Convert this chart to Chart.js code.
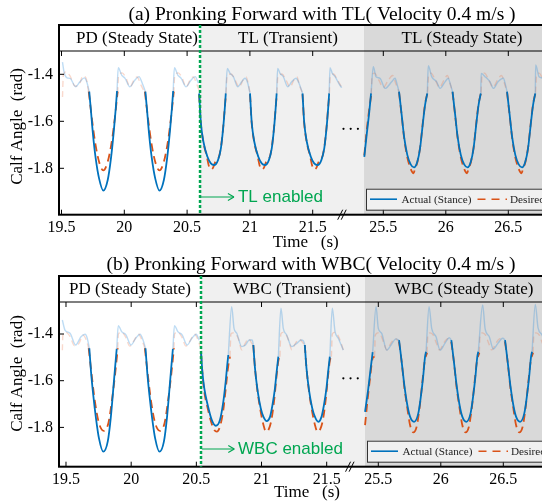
<!DOCTYPE html>
<html>
<head>
<meta charset="utf-8">
<script src="https://cdn.jsdelivr.net/npm/chart.js@4.4.0/dist/chart.umd.min.js"></script>
<style>
  html, body { margin: 0; padding: 0; background: #fff; overflow: hidden; width: 542px; height: 503px; }
  #wrap { position: relative; width: 542px; height: 503px; overflow: hidden; }
  canvas { position: absolute; left: 0; }
  #ca { top: 0; }
  #cb { top: 250px; }
</style>
</head>
<body>
<div id="wrap">
  <canvas id="ca" width="590" height="250"></canvas>
  <canvas id="cb" width="590" height="253"></canvas>
</div>
<script>
// ---- axis ticks / labels ----
const xTickTimes = [19.5, 20, 20.5, 21, 21.5, 25.5, 26, 26.5];
const xTickLabels = ['19.5', '20', '20.5', '21', '21.5', '25.5', '26', '26.5'];
const yTickValues = [-1.4, -1.6, -1.8];
const sectionLabelsA = ['PD (Steady State)', 'TL (Transient)', 'TL (Steady State)'];
const sectionLabelsB = ['PD (Steady State)', 'WBC (Transient)', 'WBC (Steady State)'];
const legendLabels = ['Actual (Stance)', 'Desired (Stance)'];

// ---- panel (a) : TL  [time s, calf angle rad], null = gap ----
const aStanceActual = [
  [19.721,-1.474],[19.735,-1.559],[19.751,-1.658],[19.772,-1.757],[19.799,-1.843],[19.833,-1.895],[19.868,-1.850],[19.894,-1.757],[19.916,-1.644],[19.932,-1.545],[19.942,-1.471], null,
  [20.168,-1.474],[20.182,-1.559],[20.198,-1.658],[20.219,-1.757],[20.246,-1.843],[20.280,-1.895],[20.315,-1.850],[20.341,-1.757],[20.363,-1.644],[20.379,-1.545],[20.389,-1.471], null,
  [20.596,-1.481],[20.609,-1.602],[20.630,-1.687],[20.662,-1.751],[20.689,-1.779],[20.715,-1.786],[20.746,-1.765],[20.769,-1.715],[20.787,-1.630],[20.800,-1.545],[20.808,-1.481], null,
  [21.001,-1.481],[21.014,-1.602],[21.035,-1.687],[21.067,-1.751],[21.094,-1.779],[21.120,-1.786],[21.151,-1.765],[21.174,-1.715],[21.192,-1.630],[21.205,-1.545],[21.213,-1.481], null,
  [21.419,-1.481],[21.432,-1.602],[21.453,-1.687],[21.485,-1.751],[21.512,-1.779],[21.538,-1.786],[21.569,-1.765],[21.592,-1.715],[21.610,-1.630],[21.623,-1.545],[21.631,-1.481], null,
  [25.348,-1.751],[25.367,-1.658],[25.388,-1.559],[25.402,-1.481], null,
  [25.626,-1.474],[25.647,-1.573],[25.668,-1.672],[25.692,-1.743],[25.719,-1.783],[25.746,-1.796],[25.772,-1.772],[25.794,-1.715],[25.815,-1.616],[25.834,-1.531],[25.852,-1.481], null,
  [26.054,-1.474],[26.075,-1.573],[26.096,-1.672],[26.120,-1.743],[26.147,-1.783],[26.174,-1.796],[26.200,-1.772],[26.222,-1.715],[26.243,-1.616],[26.262,-1.531],[26.280,-1.481], null,
  [26.490,-1.474],[26.511,-1.573],[26.532,-1.672],[26.556,-1.743],[26.583,-1.783],[26.610,-1.796],[26.636,-1.772],[26.658,-1.715],[26.679,-1.616],[26.698,-1.531],[26.716,-1.481]
];
const aStanceDesired = [
  [19.717,-1.474],[19.740,-1.580],[19.767,-1.687],[19.799,-1.772],[19.833,-1.809],[19.868,-1.772],[19.900,-1.687],[19.926,-1.580],[19.947,-1.474], null,
  [20.164,-1.474],[20.187,-1.580],[20.214,-1.687],[20.246,-1.772],[20.280,-1.809],[20.315,-1.772],[20.347,-1.687],[20.373,-1.580],[20.394,-1.474], null,
  [20.596,-1.485],[20.609,-1.606],[20.630,-1.690],[20.655,-1.745],[20.675,-1.793],[20.691,-1.805],[20.707,-1.797],[20.725,-1.772],[20.746,-1.762],[20.769,-1.712],[20.787,-1.627],[20.800,-1.542],[20.810,-1.481], null,
  [21.001,-1.485],[21.014,-1.606],[21.035,-1.690],[21.060,-1.745],[21.080,-1.793],[21.096,-1.805],[21.112,-1.797],[21.130,-1.772],[21.151,-1.762],[21.174,-1.712],[21.192,-1.627],[21.205,-1.542],[21.215,-1.481], null,
  [21.419,-1.485],[21.432,-1.606],[21.453,-1.690],[21.478,-1.745],[21.498,-1.793],[21.514,-1.805],[21.530,-1.797],[21.548,-1.772],[21.569,-1.762],[21.592,-1.712],[21.610,-1.627],[21.623,-1.542],[21.633,-1.481], null,
  [25.348,-1.745],[25.365,-1.650],[25.386,-1.555],[25.404,-1.485], null,
  [25.626,-1.476],[25.647,-1.576],[25.668,-1.676],[25.690,-1.748],[25.712,-1.792],[25.730,-1.815],[25.742,-1.821],[25.755,-1.800],[25.772,-1.775],[25.794,-1.713],[25.815,-1.612],[25.834,-1.527],[25.854,-1.478], null,
  [26.054,-1.476],[26.075,-1.576],[26.096,-1.676],[26.118,-1.748],[26.140,-1.792],[26.158,-1.815],[26.170,-1.821],[26.183,-1.800],[26.200,-1.775],[26.222,-1.713],[26.243,-1.612],[26.262,-1.527],[26.282,-1.478], null,
  [26.490,-1.476],[26.511,-1.576],[26.532,-1.676],[26.554,-1.748],[26.576,-1.792],[26.594,-1.815],[26.606,-1.821],[26.619,-1.800],[26.636,-1.775],[26.658,-1.713],[26.679,-1.612],[26.698,-1.527],[26.718,-1.478]
];
const aSwingActual = [
  [19.508,-1.348],[19.520,-1.390],[19.544,-1.415],[19.568,-1.417],[19.613,-1.453],[19.647,-1.432],[19.682,-1.415],[19.701,-1.432],[19.721,-1.474], null,
  [19.942,-1.471],[19.952,-1.372],[19.979,-1.403],[20.006,-1.417],[20.045,-1.453],[20.085,-1.424],[20.117,-1.410],[20.143,-1.438],[20.168,-1.474], null,
  [20.389,-1.471],[20.399,-1.372],[20.426,-1.403],[20.453,-1.417],[20.492,-1.453],[20.532,-1.424],[20.564,-1.410],[20.590,-1.438], null,
  [20.808,-1.481],[20.820,-1.375],[20.842,-1.396],[20.868,-1.410],[20.903,-1.453],[20.935,-1.432],[20.961,-1.417],[20.983,-1.438],[21.001,-1.481], null,
  [21.213,-1.481],[21.221,-1.375],[21.240,-1.396],[21.266,-1.410],[21.301,-1.453],[21.333,-1.432],[21.367,-1.417],[21.391,-1.438],[21.419,-1.481], null,
  [21.631,-1.481],[21.638,-1.372],[21.656,-1.396],[21.678,-1.410],[21.710,-1.441],[21.731,-1.457], null,
  [25.402,-1.481],[25.420,-1.368],[25.442,-1.410],[25.474,-1.417],[25.514,-1.460],[25.567,-1.432],[25.594,-1.417],[25.612,-1.446],[25.626,-1.474], null,
  [25.852,-1.481],[25.860,-1.363],[25.887,-1.410],[25.927,-1.432],[25.954,-1.460],[25.994,-1.432],[26.020,-1.417],[26.034,-1.438],[26.054,-1.474], null,
  [26.280,-1.481],[26.283,-1.396],[26.314,-1.410],[26.354,-1.432],[26.380,-1.460],[26.418,-1.432],[26.460,-1.417],[26.478,-1.446],[26.490,-1.474], null,
  [26.716,-1.481],[26.719,-1.360],[26.746,-1.410],[26.778,-1.417],[26.818,-1.458]
];
const aSwingDesired = [
  [19.508,-1.497],[19.514,-1.407],[19.536,-1.390],[19.568,-1.407],[19.607,-1.450],[19.639,-1.446],[19.671,-1.407],[19.695,-1.416],[19.717,-1.480], null,
  [19.947,-1.480],[19.954,-1.407],[19.982,-1.394],[20.014,-1.416],[20.045,-1.454],[20.077,-1.424],[20.101,-1.411],[20.133,-1.446],[20.164,-1.480], null,
  [20.394,-1.480],[20.401,-1.407],[20.429,-1.394],[20.461,-1.416],[20.492,-1.454],[20.524,-1.424],[20.548,-1.411],[20.580,-1.446],[20.596,-1.470], null,
  [20.810,-1.481],[20.818,-1.407],[20.850,-1.399],[20.882,-1.424],[20.914,-1.454],[20.946,-1.424],[20.970,-1.411],[20.989,-1.446],[21.001,-1.480], null,
  [21.215,-1.481],[21.223,-1.407],[21.255,-1.399],[21.287,-1.424],[21.319,-1.454],[21.351,-1.424],[21.375,-1.411],[21.394,-1.446],[21.419,-1.480], null,
  [21.633,-1.481],[21.640,-1.407],[21.665,-1.399],[21.697,-1.424],[21.729,-1.454], null,
  [25.404,-1.485],[25.410,-1.405],[25.430,-1.395],[25.460,-1.420],[25.500,-1.456],[25.540,-1.425],[25.575,-1.405],[25.600,-1.440],[25.626,-1.476], null,
  [25.854,-1.478],[25.862,-1.405],[25.882,-1.395],[25.912,-1.420],[25.950,-1.456],[25.985,-1.425],[26.012,-1.405],[26.035,-1.440],[26.054,-1.476], null,
  [26.282,-1.478],[26.290,-1.405],[26.310,-1.395],[26.340,-1.420],[26.378,-1.456],[26.413,-1.425],[26.445,-1.405],[26.470,-1.440],[26.490,-1.476], null,
  [26.718,-1.478],[26.726,-1.405],[26.746,-1.395],[26.776,-1.420],[26.814,-1.456]
];

// ---- panel (b) : WBC ----
const bStanceActual = [
  [19.679,-1.461],[19.692,-1.562],[19.709,-1.661],[19.730,-1.761],[19.753,-1.847],[19.786,-1.904],[19.820,-1.861],[19.843,-1.761],[19.861,-1.647],[19.876,-1.547],[19.889,-1.464], null,
  [20.110,-1.461],[20.123,-1.562],[20.140,-1.661],[20.161,-1.761],[20.184,-1.847],[20.217,-1.904],[20.251,-1.861],[20.274,-1.761],[20.292,-1.647],[20.307,-1.547],[20.320,-1.464], null,
  [20.536,-1.476],[20.546,-1.561],[20.561,-1.633],[20.587,-1.704],[20.618,-1.768],[20.649,-1.793],[20.681,-1.768],[20.707,-1.690],[20.725,-1.604],[20.737,-1.533],[20.745,-1.490], null,
  [20.937,-1.447],[20.950,-1.547],[20.971,-1.647],[20.994,-1.718],[21.015,-1.755],[21.040,-1.773],[21.065,-1.755],[21.084,-1.704],[21.103,-1.633],[21.116,-1.562],[21.129,-1.497], null,
  [21.332,-1.447],[21.345,-1.547],[21.366,-1.647],[21.389,-1.718],[21.410,-1.755],[21.435,-1.776],[21.460,-1.755],[21.479,-1.704],[21.498,-1.633],[21.511,-1.562],[21.524,-1.497], null,
  [25.394,-1.733],[25.420,-1.633],[25.439,-1.547],[25.455,-1.478], null,
  [25.666,-1.426],[25.687,-1.519],[25.708,-1.618],[25.732,-1.704],[25.754,-1.754],[25.786,-1.776],[25.820,-1.740],[25.842,-1.661],[25.860,-1.576],[25.874,-1.497],[25.882,-1.476], null,
  [26.084,-1.426],[26.105,-1.519],[26.126,-1.618],[26.150,-1.704],[26.172,-1.754],[26.204,-1.776],[26.238,-1.740],[26.260,-1.661],[26.278,-1.576],[26.292,-1.497],[26.300,-1.476], null,
  [26.514,-1.426],[26.535,-1.519],[26.556,-1.618],[26.580,-1.704],[26.602,-1.754],[26.634,-1.776],[26.668,-1.740],[26.690,-1.661],[26.708,-1.576],[26.722,-1.497],[26.730,-1.476]
];
const bStanceDesired = [
  [19.674,-1.461],[19.697,-1.576],[19.722,-1.690],[19.753,-1.782],[19.790,-1.815],[19.825,-1.782],[19.851,-1.690],[19.876,-1.576],[19.897,-1.461], null,
  [20.105,-1.461],[20.128,-1.576],[20.153,-1.690],[20.184,-1.782],[20.221,-1.815],[20.256,-1.782],[20.282,-1.690],[20.307,-1.576],[20.328,-1.461], null,
  [20.536,-1.483],[20.546,-1.563],[20.559,-1.640],[20.587,-1.718],[20.613,-1.776],[20.638,-1.811],[20.657,-1.818],[20.681,-1.797],[20.707,-1.725],[20.727,-1.626],[20.745,-1.536],[20.758,-1.497], null,
  [20.937,-1.447],[20.950,-1.547],[20.971,-1.653],[20.994,-1.734],[21.015,-1.790],[21.034,-1.818],[21.053,-1.811],[21.076,-1.768],[21.099,-1.674],[21.116,-1.576],[21.130,-1.512],[21.141,-1.497], null,
  [21.332,-1.447],[21.345,-1.547],[21.366,-1.653],[21.389,-1.734],[21.410,-1.790],[21.429,-1.818],[21.448,-1.811],[21.471,-1.768],[21.494,-1.674],[21.511,-1.576],[21.525,-1.512],[21.536,-1.497], null,
  [25.394,-1.790],[25.414,-1.683],[25.434,-1.588],[25.455,-1.503],[25.470,-1.497], null,
  [25.666,-1.434],[25.687,-1.520],[25.708,-1.627],[25.732,-1.717],[25.754,-1.790],[25.780,-1.821],[25.806,-1.798],[25.830,-1.717],[25.850,-1.618],[25.870,-1.520],[25.890,-1.480], null,
  [26.084,-1.434],[26.105,-1.520],[26.126,-1.627],[26.150,-1.717],[26.172,-1.790],[26.198,-1.821],[26.224,-1.798],[26.248,-1.717],[26.268,-1.618],[26.288,-1.520],[26.308,-1.480], null,
  [26.514,-1.434],[26.535,-1.520],[26.556,-1.627],[26.580,-1.717],[26.602,-1.790],[26.628,-1.821],[26.654,-1.798],[26.678,-1.717],[26.698,-1.618],[26.718,-1.520],[26.738,-1.480]
];
const bSwingActual = [
  [19.472,-1.340],[19.492,-1.383],[19.531,-1.397],[19.574,-1.447],[19.615,-1.412],[19.646,-1.401],[19.663,-1.418],[19.679,-1.461], null,
  [19.889,-1.464],[19.901,-1.364],[19.927,-1.390],[19.960,-1.404],[19.999,-1.447],[20.035,-1.418],[20.068,-1.401],[20.091,-1.426],[20.110,-1.461], null,
  [20.320,-1.464],[20.332,-1.364],[20.358,-1.390],[20.391,-1.404],[20.430,-1.447],[20.466,-1.418],[20.499,-1.401],[20.522,-1.426], null,
  [20.745,-1.490],[20.771,-1.283],[20.789,-1.376],[20.810,-1.397],[20.848,-1.454],[20.877,-1.447],[20.906,-1.426],[20.929,-1.426],[20.937,-1.447], null,
  [21.129,-1.497],[21.149,-1.290],[21.167,-1.376],[21.193,-1.404],[21.232,-1.454],[21.270,-1.440],[21.303,-1.426],[21.322,-1.430],[21.332,-1.447], null,
  [21.524,-1.497],[21.543,-1.290],[21.564,-1.390],[21.589,-1.418],[21.627,-1.469], null,
  [25.455,-1.478],[25.482,-1.283],[25.500,-1.376],[25.527,-1.397],[25.567,-1.469],[25.602,-1.447],[25.642,-1.421],[25.666,-1.426], null,
  [25.882,-1.476],[25.906,-1.283],[25.927,-1.376],[25.962,-1.412],[25.994,-1.469],[26.034,-1.439],[26.068,-1.416],[26.084,-1.426], null,
  [26.300,-1.476],[26.335,-1.276],[26.354,-1.376],[26.388,-1.412],[26.420,-1.464],[26.458,-1.439],[26.495,-1.418],[26.514,-1.426], null,
  [26.730,-1.476],[26.756,-1.273],[26.778,-1.374],[26.810,-1.404],[26.850,-1.464]
];
const bSwingDesired = [
  [19.472,-1.470],[19.476,-1.405],[19.500,-1.393],[19.530,-1.410],[19.565,-1.450],[19.600,-1.440],[19.630,-1.405],[19.655,-1.425],[19.674,-1.461], null,
  [19.897,-1.461],[19.902,-1.400],[19.925,-1.392],[19.955,-1.410],[19.990,-1.452],[20.025,-1.425],[20.055,-1.400],[20.085,-1.430],[20.105,-1.461], null,
  [20.328,-1.461],[20.333,-1.400],[20.356,-1.392],[20.386,-1.410],[20.421,-1.452],[20.456,-1.425],[20.486,-1.400],[20.516,-1.430],[20.530,-1.455], null,
  [20.758,-1.497],[20.765,-1.400],[20.782,-1.395],[20.800,-1.398],[20.825,-1.425],[20.848,-1.468],[20.875,-1.440],[20.900,-1.420],[20.925,-1.440],[20.937,-1.447], null,
  [21.141,-1.497],[21.148,-1.400],[21.165,-1.393],[21.185,-1.400],[21.210,-1.430],[21.232,-1.468],[21.260,-1.440],[21.290,-1.422],[21.320,-1.440],[21.332,-1.447], null,
  [21.536,-1.497],[21.543,-1.400],[21.560,-1.393],[21.580,-1.400],[21.605,-1.430],[21.627,-1.468], null,
  [25.470,-1.497],[25.476,-1.405],[25.495,-1.395],[25.520,-1.405],[25.545,-1.440],[25.567,-1.468],[25.600,-1.440],[25.635,-1.420],[25.666,-1.434], null,
  [25.890,-1.480],[25.896,-1.405],[25.915,-1.395],[25.940,-1.405],[25.965,-1.440],[25.990,-1.468],[26.022,-1.440],[26.055,-1.420],[26.084,-1.434], null,
  [26.308,-1.480],[26.314,-1.405],[26.333,-1.395],[26.358,-1.405],[26.383,-1.440],[26.408,-1.468],[26.440,-1.440],[26.473,-1.420],[26.514,-1.434], null,
  [26.738,-1.480],[26.744,-1.405],[26.763,-1.395],[26.788,-1.405],[26.813,-1.440],[26.838,-1.468]
];

// ---- layout of the two panels ----
const BLUE = '#0072BD', ORANGE = '#D95319', GREEN = '#00A651';
const LIGHT = '#f0f0f0', DARK = '#d9d9d9';
const SERIF = '"Liberation Serif", "Times New Roman", serif';
const SANS = '"Liberation Sans", Arial, sans-serif';

const panels = [
  {
    canvas: 'ca', title: '(a) Pronking Forward with TL( Velocity 0.4 m/s )', titleX: 322,
    sections: sectionLabelsA, sectionX: [137, 288, 462], enabledText: 'TL enabled',
    enableT: 20.603, steadyT: 25.346, seg2U0: 22.0621, seg2Scale: 0.99522,
    xMin: 19.4801, xMax: 23.668, yMin: -1.9974, yMax: -1.1902, padTop: 25, xAxisH: 35.3,
    arrowEndU: 20.873, arrowV: -1.922, textU: 20.905,
    breakU: 21.739, dotsU: 21.8025, dotsV: -1.632, legendLeft: 366,
    yTitleY: 126.5, xTitleX: 305.8,
    stanceActual: aStanceActual, stanceDesired: aStanceDesired, swingActual: aSwingActual, swingDesired: aSwingDesired
  },
  {
    canvas: 'cb', title: '(b) Pronking Forward with WBC( Velocity 0.4 m/s )', titleX: 311,
    sections: sectionLabelsB, sectionX: [130, 292, 464], enabledText: 'WBC enabled',
    enableT: 20.5357, steadyT: 25.3936, seg2U0: 21.8959, seg2Scale: 0.95896,
    xMin: 19.4463, xMax: 23.4816, yMin: -1.9683, yMax: -1.1516, padTop: 26, xAxisH: 36.3,
    arrowEndU: 20.791, arrowV: -1.8925, textU: 20.8195,
    breakU: 21.683, dotsU: 21.683, dotsV: -1.59, legendLeft: 367,
    yTitleY: 123.5, xTitleX: 307,
    stanceActual: bStanceActual, stanceDesired: bStanceDesired, swingActual: bSwingActual, swingDesired: bSwingDesired
  }
];

// broken time axis: second segment is shifted next to the first one
function makeMap(p) {
  return t => (t < 23 ? t : p.seg2U0 + (t - 25.5) * p.seg2Scale);
}

function toPoints(arr, map) {
  let lastX = 0;
  return arr.map(pt => {
    if (!pt) return { x: lastX, y: null };
    lastX = map(pt[0]);
    return { x: lastX, y: pt[1] };
  });
}

function line(ctx, x1, y1, x2, y2) {
  ctx.beginPath(); ctx.moveTo(x1, y1); ctx.lineTo(x2, y2); ctx.stroke();
}

function makeDecor(p, map) {
  return {
    id: 'decor',
    beforeDatasetsDraw(chart) {
      const { ctx, chartArea: a, scales: { x } } = chart;
      const xe = x.getPixelForValue(map(p.enableT));
      const xs = x.getPixelForValue(map(p.steadyT));
      ctx.save();
      ctx.fillStyle = LIGHT;
      ctx.fillRect(xe, a.top, xs - xe, a.bottom - a.top);
      ctx.fillStyle = DARK;
      ctx.fillRect(xs, a.top, a.right - xs, a.bottom - a.top);
      ctx.restore();
    },
    afterDatasetsDraw(chart) {
      const { ctx, chartArea: a, scales: { x, y } } = chart;
      const xe = x.getPixelForValue(map(p.enableT));
      const xs = x.getPixelForValue(map(p.steadyT));
      const hb = a.top + 26;
      ctx.save();

      // header band
      ctx.fillStyle = '#fff'; ctx.fillRect(a.left, a.top, xe - a.left, 26);
      ctx.fillStyle = LIGHT; ctx.fillRect(xe, a.top, xs - xe, 26);
      ctx.fillStyle = DARK; ctx.fillRect(xs, a.top, a.right - xs, 26);
      ctx.strokeStyle = '#000'; ctx.lineWidth = 1.2;
      line(ctx, a.left, hb, a.right, hb);
      ctx.fillStyle = '#000';
      ctx.font = '17px ' + SERIF; ctx.textAlign = 'center'; ctx.textBaseline = 'middle';
      p.sections.forEach((s, i) => ctx.fillText(s, p.sectionX[i], a.top + 14));

      // inward tick marks
      ctx.lineWidth = 1;
      xTickTimes.forEach(t => {
        const px = x.getPixelForValue(map(t));
        line(ctx, px, a.bottom, px, a.bottom - 5);
        line(ctx, px, hb, px, hb + 5);
      });
      yTickValues.forEach(v => {
        const py = y.getPixelForValue(v);
        line(ctx, a.left, py, a.left + 5, py);
      });

      // frame
      ctx.lineWidth = 2;
      ctx.strokeRect(a.left, a.top, a.right - a.left, a.bottom - a.top);

      // axis break mark
      const xb = x.getPixelForValue(p.breakU);
      ctx.lineWidth = 1;
      line(ctx, xb - 5, a.bottom + 5, xb, a.bottom - 5);
      line(ctx, xb - 1.5, a.bottom + 5, xb + 3.5, a.bottom - 5);

      // ellipsis
      const xd = x.getPixelForValue(p.dotsU), yd = y.getPixelForValue(p.dotsV);
      [-7.2, 0, 7.2].forEach(dx => { ctx.beginPath(); ctx.arc(xd + dx, yd, 1.1, 0, Math.PI * 2); ctx.fill(); });

      // controller switch line
      ctx.strokeStyle = GREEN; ctx.lineWidth = 2.5; ctx.setLineDash([3, 2]);
      line(ctx, xe, a.top, xe, a.bottom);
      ctx.setLineDash([]);
      const ya = y.getPixelForValue(p.arrowV), xa = x.getPixelForValue(p.arrowEndU);
      ctx.lineWidth = 1.2;
      line(ctx, xe + 1, ya, xa, ya);
      line(ctx, xa - 6, ya - 3.5, xa, ya);
      line(ctx, xa - 6, ya + 3.5, xa, ya);
      ctx.fillStyle = GREEN; ctx.font = '17px ' + SANS; ctx.textAlign = 'left';
      ctx.fillText(p.enabledText, x.getPixelForValue(p.textU), ya);

      // legend
      const lx = p.legendLeft, ly = a.bottom - 26, lh = 21, my = ly + lh / 2;
      ctx.fillStyle = '#f0f0f0'; ctx.fillRect(lx, ly, 240, lh);
      ctx.strokeStyle = '#333'; ctx.lineWidth = 1; ctx.strokeRect(lx + 0.5, ly + 0.5, 240, lh);
      ctx.strokeStyle = BLUE; ctx.lineWidth = 1.6;
      line(ctx, lx + 4, my, lx + 31, my);
      ctx.strokeStyle = ORANGE; ctx.setLineDash([8, 6]);
      line(ctx, lx + 111.5, my, lx + 141, my);
      ctx.setLineDash([]);
      ctx.fillStyle = '#222'; ctx.font = '11.2px ' + SERIF;
      ctx.fillText(legendLabels[0], lx + 35.5, my + 0.5);
      ctx.fillText(legendLabels[1], lx + 144, my + 0.5);
      ctx.restore();
    },
    afterDraw(chart) {
      const { ctx } = chart;
      ctx.save();
      ctx.fillStyle = '#000'; ctx.textAlign = 'center'; ctx.textBaseline = 'middle';
      ctx.font = '19.5px ' + SERIF;
      ctx.fillText(p.title, p.titleX, 15);
      ctx.font = '17px ' + SERIF;
      ctx.fillText('Time   (s)', p.xTitleX, 243);
      ctx.translate(18, p.yTitleY); ctx.rotate(-Math.PI / 2);
      ctx.fillText('Calf Angle  (rad)', 0, 0);
      ctx.restore();
    }
  };
}

panels.forEach(p => {
  const map = makeMap(p);
  new Chart(document.getElementById(p.canvas), {
    type: 'line',
    data: {
      datasets: [
        { data: toPoints(p.stanceActual, map), borderColor: BLUE, borderWidth: 1.8 },
        { data: toPoints(p.stanceDesired, map), borderColor: ORANGE, borderWidth: 1.8, borderDash: [8, 5] },
        { data: toPoints(p.swingActual, map), borderColor: 'rgba(40,140,220,0.3)', borderWidth: 1.4 },
        { data: toPoints(p.swingDesired, map), borderColor: 'rgba(235,110,60,0.26)', borderWidth: 1.4, borderDash: [6, 4] }
      ]
    },
    options: {
      responsive: false,
      animation: false,
      events: [],
      spanGaps: false,
      elements: {
        point: { radius: 0 },
        line: { cubicInterpolationMode: 'monotone', fill: false }
      },
      layout: { padding: { top: p.padTop, right: 5, left: 0, bottom: 0 } },
      plugins: { legend: { display: false }, tooltip: { enabled: false }, title: { display: false } },
      scales: {
        x: {
          type: 'linear', min: p.xMin, max: p.xMax,
          grid: { display: false, drawTicks: false }, border: { display: false },
          afterBuildTicks: s => { s.ticks = xTickTimes.map(t => ({ value: map(t) })); },
          afterFit: s => { s.height = p.xAxisH; },
          ticks: {
            callback: (v, i) => xTickLabels[i],
            autoSkip: false, maxRotation: 0, padding: 3, color: '#000',
            font: { family: SERIF, size: 16 }
          }
        },
        y: {
          type: 'linear', min: p.yMin, max: p.yMax,
          grid: { display: false, drawTicks: false }, border: { display: false },
          afterBuildTicks: s => { s.ticks = yTickValues.map(v => ({ value: v })); },
          afterFit: s => { s.width = 59; },
          ticks: {
            callback: v => v.toFixed(1),
            padding: 6, color: '#000',
            font: { family: SERIF, size: 16 }
          }
        }
      }
    },
    plugins: [makeDecor(p, map)]
  });
});
</script>
</body>
</html>
